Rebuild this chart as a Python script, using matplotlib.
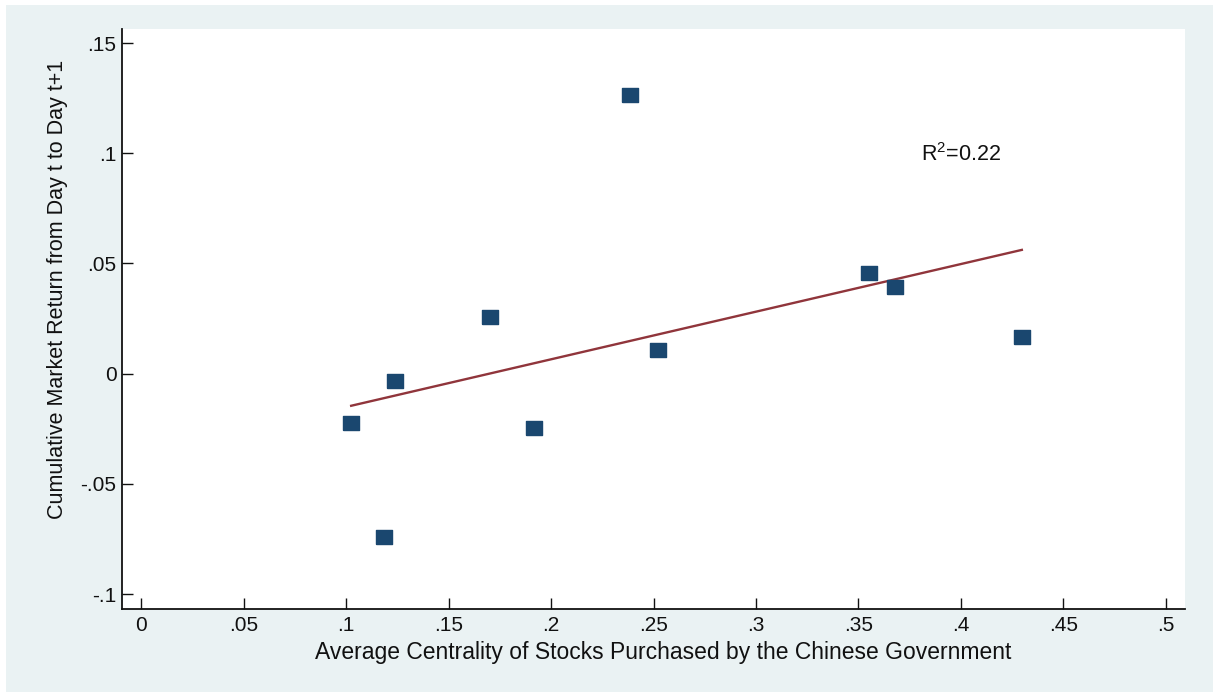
import numpy as np
import matplotlib
matplotlib.use("Agg")
import matplotlib.pyplot as plt
from matplotlib.patches import Rectangle

# ---- data ----
centrality = [0.1025, 0.1187, 0.1240, 0.1704, 0.1919, 0.2383, 0.2524, 0.3550, 0.3680, 0.4297]
market_return = [-0.0223, -0.0741, -0.0032, 0.0259, -0.0245, 0.1264, 0.0109, 0.0455, 0.0395, 0.0168]
x_ticks = [0, 0.05, 0.1, 0.15, 0.2, 0.25, 0.3, 0.35, 0.4, 0.45, 0.5]
x_tick_labels = ["0", ".05", ".1", ".15", ".2", ".25", ".3", ".35", ".4", ".45", ".5"]
y_ticks = [-0.1, -0.05, 0, 0.05, 0.1, 0.15]
y_tick_labels = ["-.1", "-.05", "0", ".05", ".1", ".15"]
x_label = "Average Centrality of Stocks Purchased by the Chinese Government"
y_label = "Cumulative Market Return from Day t to Day t+1"

W, H = 1213, 692
plt.rcParams['font.family'] = ['Liberation Sans', 'DejaVu Sans']
plt.rcParams['mathtext.fontset'] = 'custom'
plt.rcParams['mathtext.rm'] = 'Liberation Sans'
plt.rcParams['mathtext.it'] = 'Liberation Sans'

fig = plt.figure(figsize=(W / 100, H / 100), dpi=100)
fig.patch.set_facecolor('white')
fig.patches.append(Rectangle((6 / W, 0), 1 - 6 / W, (H - 5) / H, transform=fig.transFigure,
                             facecolor='#eaf2f3', edgecolor='none', zorder=-10))

left, right, top, bottom = 122, 1185, 29, 609
ax = fig.add_axes([left / W, (H - bottom) / H, (right - left) / W, (bottom - top) / H])
ax.set_facecolor('white')

ax.set_xlim(-0.0093, 0.5093)
ax.set_ylim(-0.1068, 0.1564)

for s in ['top', 'right']:
    ax.spines[s].set_visible(False)
for s in ['left', 'bottom']:
    ax.spines[s].set_linewidth(1.3)
    ax.spines[s].set_color('#111111')

ax.set_xticks(x_ticks)
ax.set_xticklabels(x_tick_labels)
ax.set_yticks(y_ticks)
ax.set_yticklabels(y_tick_labels)
ax.tick_params(direction='in', length=8, width=1.0, color='#111111', labelsize=15,
               labelcolor='#111111')
ax.tick_params(axis='x', pad=5)
ax.tick_params(axis='y', pad=4)

# scatter
rect = [(-1, -0.85), (1, -0.85), (1, 0.85), (-1, 0.85), (-1, -0.85)]
ax.plot(centrality, market_return, linestyle='none', marker=rect, markersize=11.5,
        markerfacecolor='#1a476f', markeredgecolor='#1a476f', zorder=3)

# linear fit
xa = np.array(centrality)
ya = np.array(market_return)
slope, intercept = np.polyfit(xa, ya, 1)
xf = np.array([xa.min(), xa.max()])
ax.plot(xf, slope * xf + intercept, color='#90353b', linewidth=1.7, zorder=2)
r2 = np.corrcoef(xa, ya)[0, 1] ** 2

ax.text(0.40, 0.0995, "R$^2$=%.2f" % r2, fontsize=15.5, ha='center', va='center', color='#111111')

fig.text(663 / W, 1 - 652 / H, x_label, fontsize=16.5, ha='center', va='center', color='#111111')
fig.text(58 / W, 1 - 289 / H, y_label, fontsize=15.5, ha='center', va='center', rotation=90,
         color='#111111')

fig.savefig('out.png', dpi=100)
